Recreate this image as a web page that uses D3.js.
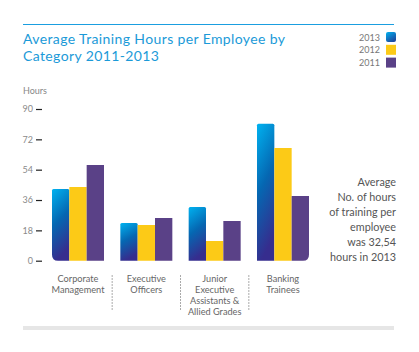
<!DOCTYPE html>
<html><head><meta charset="utf-8">
<script src="https://cdn.jsdelivr.net/npm/d3@7"></script>
<style>body{margin:0;background:#fff}svg{display:block}</style>
</head><body>
<script>
const categories = [["Corporate","Management"],["Executive","Officers"],["Junior","Executive","Assistants &","Allied Grades"],["Banking","Trainees"]];
const series = ["2013","2012","2011"];
const values2013 = [42.5, 22.4, 31.9, 81.3];
const values2012 = [43.7, 21.2, 11.7, 66.9];
const values2011 = [56.8, 25.3, 23.6, 38.4];
const yTicks = [0, 18, 36, 54, 72, 90];
const noteLines = ["Average","No. of hours","of training per","employee","was 32,54","hours in 2013"];

const W = 419, H = 352;
const FONT = "Lato, 'Open Sans', sans-serif";
const svg = d3.select("body").append("svg").attr("width", W).attr("height", H);
const defs = svg.append("defs");
const g1 = defs.append("linearGradient").attr("id","blueGrad").attr("x1",0).attr("y1",0).attr("x2",0.25).attr("y2",1);
g1.append("stop").attr("offset","0%").attr("stop-color","#00b2f0");
g1.append("stop").attr("offset","50%").attr("stop-color","#0567b2");
g1.append("stop").attr("offset","100%").attr("stop-color","#362d8e");
const g2 = defs.append("linearGradient").attr("id","legGrad").attr("x1",0).attr("y1",0).attr("x2",0.6).attr("y2",1);
g2.append("stop").attr("offset","0%").attr("stop-color","#00b2f0");
g2.append("stop").attr("offset","100%").attr("stop-color","#1d4aa0");

const colors = {"2013":"url(#blueGrad)","2012":"#fcca17","2011":"#5a4187"};
const dataBy = {"2013":values2013,"2012":values2012,"2011":values2011};

// top rule
svg.append("line").attr("x1",23).attr("x2",394).attr("y1",24.5).attr("y2",24.5).attr("stroke","#1a9ee0").attr("stroke-width",1);
// title
["Average Training Hours per Employee by","Category 2011-2013"].forEach((l,i)=>{
  svg.append("text").attr("x",23).attr("y",43.5 + i*17).attr("font-family",FONT).attr("font-size",14)
    .attr("letter-spacing",0.38).attr("fill","#1b9ad8").text(l);
});

// legend
series.forEach((s,i)=>{
  const yy = 32 + i*12.8;
  svg.append("text").attr("x",380).attr("y",yy+8.5).attr("text-anchor","end").attr("font-family",FONT).attr("font-size",9).attr("fill","#777").text(s);
  svg.append("rect").attr("x",386).attr("y",yy).attr("width",10).attr("height",10).attr("rx", i===0?2:0)
    .attr("fill", i===0 ? "url(#legGrad)" : colors[s]);
});

// Hours label
svg.append("text").attr("x",23).attr("y",94).attr("font-family",FONT).attr("font-size",9).attr("fill","#888").text("Hours");

const y = d3.scaleLinear().domain([0,90]).range([260.7,109]);
const x0 = d3.scaleBand().domain(d3.range(categories.length)).range([52, 309]).paddingInner(0.239).paddingOuter(0);
const x1 = d3.scaleBand().domain(series).range([0, x0.bandwidth()]).padding(0);

// y axis
const yAxis = d3.axisLeft(y).tickValues(yTicks).tickSize(6).tickPadding(3);
const ag = svg.append("g").attr("transform","translate(42,0)").call(yAxis);
ag.select(".domain").remove();
ag.selectAll(".tick line").attr("stroke","#222").attr("stroke-width",1.2);
ag.selectAll(".tick text").attr("font-family",FONT).attr("font-size",9).attr("fill","#8a8a8a");

function barPath(x, yTop, w, h, rtl, rtr, rbr, rbl){
  return `M${x+rtl},${yTop} H${x+w-rtr} Q${x+w},${yTop} ${x+w},${yTop+rtr} V${yTop+h-rbr} Q${x+w},${yTop+h} ${x+w-rbr},${yTop+h} H${x+rbl} Q${x},${yTop+h} ${x},${yTop+h-rbl} V${yTop+rtl} Q${x},${yTop} ${x+rtl},${yTop} Z`;
}

categories.forEach((c,ci)=>{
  series.forEach((s,si)=>{
    const v = dataBy[s][ci];
    const bx = x0(ci) + x1(s), bw = x1.bandwidth();
    const top = y(v), h = y(0) - y(v);
    const rt = s==="2013" ? 1.5 : 0;
    const rbl = (ci===0 && si===0) ? 6 : 0;
    const rbr = (ci===categories.length-1 && si===series.length-1) ? 6 : 0;
    svg.append("path").attr("d", barPath(bx, top, bw, h, rt, rt, rbr, rbl)).attr("fill", colors[s]);
  });
  // category labels
  const cx = x0(ci) + x0.bandwidth()/2;
  const t = svg.append("text").attr("text-anchor","middle").attr("font-family",FONT).attr("font-size",9.2).attr("fill","#666");
  c.forEach((line,li)=>t.append("tspan").attr("x",cx).attr("y",281.5 + li*11).text(line));
  if (ci < categories.length-1) {
    const sx = (x0(ci) + x0.bandwidth() + x0(ci+1))/2;
    svg.append("line").attr("x1",sx).attr("x2",sx).attr("y1",275).attr("y2",311)
      .attr("stroke","#aaa").attr("stroke-width",1).attr("stroke-dasharray","2,1");
  }
});

// note
const nt = svg.append("text").attr("text-anchor","end").attr("font-family",FONT).attr("font-size",10.8).attr("fill","#555");
noteLines.forEach((l,i)=>nt.append("tspan").attr("x",396).attr("y",185.5 + i*15).text(l));

// bottom gray bar
svg.append("rect").attr("x",23).attr("y",326).attr("width",371).attr("height",4).attr("fill","#e6e6e6");
</script>
</body></html>
